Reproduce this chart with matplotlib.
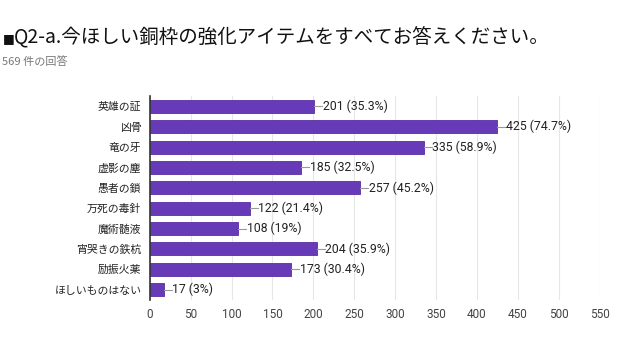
import numpy as np
import matplotlib.pyplot as plt

plt.rcParams['font.family'] = ['Noto Sans CJK JP', 'DejaVu Sans']

items = ['英雄の証', '凶骨', '竜の牙', '虚影の塵', '愚者の鎖', '万死の毒針',
         '魔術髄液', '宵哭きの鉄杭', '励振火薬', 'ほしいものはない']
counts = [201, 425, 335, 185, 257, 122, 108, 204, 173, 17]
pcts = ['35.3%', '74.7%', '58.9%', '32.5%', '45.2%', '21.4%', '19%', '35.9%', '30.4%', '3%']
xticks = [0, 50, 100, 150, 200, 250, 300, 350, 400, 450, 500, 550]

fig = plt.figure(figsize=(6.4, 3.6), dpi=100)
ax = fig.add_axes([0.234, 0.167, 0.703, 0.566])

y = np.arange(len(items))
ax.barh(y, counts, height=0.64, color='#673ab7', edgecolor='#5a2fa6', linewidth=0.6, zorder=3)

for yi, c, p in zip(y, counts, pcts):
    ax.plot([c, c + 10], [yi, yi], color='#999999', lw=0.8, zorder=3)
    ax.text(c + 10.5, yi, '%d (%s)' % (c, p), va='center', ha='left',
            fontsize=8.8, color='#222222', family=['Roboto', 'DejaVu Sans'])

ax.set_ylim(len(items) - 0.5, -0.5)
ax.set_xlim(0, 550)
ax.set_xticks(xticks)
ax.set_yticks(y)
ax.set_yticklabels(items, fontsize=7.8, color='#222222')
ax.tick_params(axis='x', labelsize=8.5, labelcolor='#444444', length=0, pad=6)
ax.tick_params(axis='y', length=0, pad=6)
for lab in ax.get_xticklabels():
    lab.set_family(['Roboto', 'DejaVu Sans'])
ax.grid(axis='x', color='#e6e6e6', lw=0.8, zorder=0)
for s in ['top', 'right', 'bottom']:
    ax.spines[s].set_visible(False)
ax.spines['left'].set_color('#333333')
ax.spines['left'].set_linewidth(1.2)
ax.spines['left'].set_zorder(4)

# title: small square then the question
fig.text(3 / 640, 0.884, '■', fontsize=9, color='#111111', va='baseline', ha='left',
         family=['DejaVu Sans'])
fig.text(14 / 640, 0.878, 'Q2-a.今ほしい銅枠の強化アイテムをすべてお答えください。',
         fontsize=14, color='#111111', va='baseline', ha='left')
fig.text(0.003, 0.829, '569 件の回答', fontsize=8, color='#777777', va='center', ha='left')

fig.savefig('out.png', dpi=100)
